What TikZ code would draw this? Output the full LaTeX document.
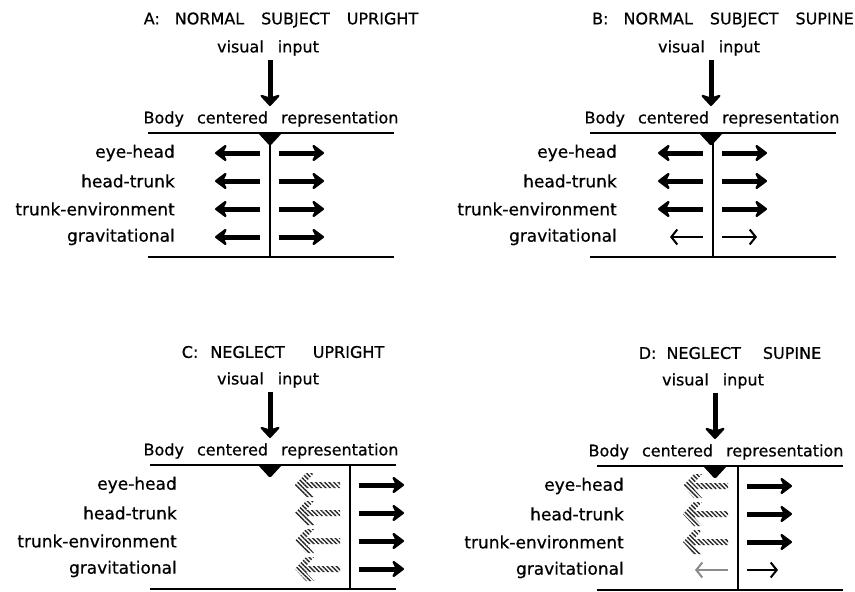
\documentclass[tikz,border=0pt]{standalone}
\usepackage{fontspec}
\setmainfont{DejaVu Sans}[FakeBold=0.6]
\usetikzlibrary{arrows.meta, patterns.meta}
\tikzstyle{heading} = [inner sep=0pt, font=\fontsize{16pt}{19pt}\selectfont]
\tikzstyle{rowtext} = [inner sep=0pt, anchor=east, font=\fontsize{17pt}{20pt}\selectfont]
\tikzstyle{hline} = [line width=2.8pt]
\tikzstyle{inarrow} = [line width=5pt, -{Stealth[length=13pt, width=24pt, inset=4pt, round, line width=3.5pt]}]
\tikzstyle{bigarrow} = [line width=5pt, -{Stealth[length=14pt, width=21pt, inset=5pt, round, line width=3.8pt]}]
\tikzstyle{thinarrow} = [line width=2pt, -{Straight Barb[length=6pt, width=15pt]}]
\tikzstyle{hatched} = [pattern={Lines[angle=-45, distance=3.2pt, line width=1.4pt]}, pattern color=black!85]
\tikzset{hatchleft/.pic={\path[hatched] (0,0) -- (11,-12) -- (19,-12) -- (11,-3) -- (45,-3) -- (45,3) -- (11,3) -- (19,12) -- (11,12) -- cycle;}}
% #1 panel, #2 heading, #3 left end of rules, #4 upper rule, #5 input arrow, #6 midline
\newcommand{\panelframe}[6]{%
        \node (#1-title) [heading] at (#3+133, #4-113) {#2};
        \node (#1-vis) [heading] at (#5-2, #4-85) {visual\hspace{14pt}input};
        \node (#1-body) [heading] at (#5+1, #4-14) {Body\hspace{13pt}centered\hspace{13pt}representation};
        \node (#1-eyehead) [rowtext] at (#3+27, #4+20) {eye-head};
        \node (#1-headtrunk) [rowtext] at (#3+27, #4+48) {head-trunk};
        \node (#1-trunkenv) [rowtext] at (#3+27, #4+76) {trunk-environment};
        \node (#1-grav) [rowtext] at (#3+27, #4+104) {gravitational};
        \coordinate (#1-src) at (#5, #4-73);
        \coordinate (#1-dst) at (#5, #4-27);
        \draw [inarrow] (#1-src) -- (#1-dst);
        \coordinate (#1-tl) at (#3, #4);
        \coordinate (#1-tr) at (#3+246, #4);
        \coordinate (#1-bl) at (#3, #4+124);
        \coordinate (#1-br) at (#3+246, #4+124);
        \coordinate (#1-mt) at (#6, #4);
        \coordinate (#1-mb) at (#6, #4+124);
        \draw [hline] (#1-tl) -- (#1-tr);
        \draw [hline] (#1-bl) -- (#1-br);
        \draw [hline] (#1-mt) -- (#1-mb);
        \fill [rounded corners=1.5pt] (#5-12, #4) -- (#5+12, #4) -- (#5, #4+13) -- cycle;
        % arrow ends for the four rows
        \coordinate (#1-wt1) at (#6-10, #4+20); \coordinate (#1-wh1) at (#6-55, #4+20);
        \coordinate (#1-et1) at (#6+9, #4+20); \coordinate (#1-eh1) at (#6+54, #4+20);
        \coordinate (#1-wt2) at (#6-10, #4+48); \coordinate (#1-wh2) at (#6-55, #4+48);
        \coordinate (#1-et2) at (#6+9, #4+48); \coordinate (#1-eh2) at (#6+54, #4+48);
        \coordinate (#1-wt3) at (#6-10, #4+76); \coordinate (#1-wh3) at (#6-55, #4+76);
        \coordinate (#1-et3) at (#6+9, #4+76); \coordinate (#1-eh3) at (#6+54, #4+76);
        \coordinate (#1-wt4) at (#6-10, #4+104); \coordinate (#1-wh4) at (#6-55, #4+104);
        \coordinate (#1-et4) at (#6+9, #4+104); \coordinate (#1-eh4) at (#6+54, #4+104);
}

\begin{document}
\begin{tikzpicture}[x=1pt, y=-1pt]
        \fill [white] (0,0) rectangle (855,592);
        \useasboundingbox (0,0) rectangle (855,592);
        \panelframe{A}{A:\hspace{15pt}NORMAL\hspace{17pt}SUBJECT\hspace{17pt}UPRIGHT}{148}{133}{270}{270}
        \panelframe{B}{B:\hspace{15pt}NORMAL\hspace{17pt}SUBJECT\hspace{17pt}SUPINE}{590}{133}{711}{713}
        \panelframe{C}{C:\hspace{12pt}NEGLECT\hspace{28pt}UPRIGHT}{150}{465}{270}{350}
        \panelframe{D}{D:\hspace{10pt}NEGLECT\hspace{22pt}SUPINE}{597}{466}{715}{738}
        % A: normal upright
        \draw [bigarrow] (A-wt1) -- (A-wh1);
        \draw [bigarrow] (A-wt2) -- (A-wh2);
        \draw [bigarrow] (A-wt3) -- (A-wh3);
        \draw [bigarrow] (A-wt4) -- (A-wh4);
        \draw [bigarrow] (A-et1) -- (A-eh1);
        \draw [bigarrow] (A-et2) -- (A-eh2);
        \draw [bigarrow] (A-et3) -- (A-eh3);
        \draw [bigarrow] (A-et4) -- (A-eh4);
        % B: normal supine, weak gravitational signal
        \draw [bigarrow] (B-wt1) -- (B-wh1);
        \draw [bigarrow] (B-wt2) -- (B-wh2);
        \draw [bigarrow] (B-wt3) -- (B-wh3);
        \draw [thinarrow, shorten >=12pt] (B-wt4) -- (B-wh4);
        \draw [bigarrow] (B-et1) -- (B-eh1);
        \draw [bigarrow] (B-et2) -- (B-eh2);
        \draw [bigarrow] (B-et3) -- (B-eh3);
        \draw [thinarrow, shorten >=10pt] (B-et4) -- (B-eh4);
        % C: neglect upright
        \pic at (C-wh1) {hatchleft};
        \pic at (C-wh2) {hatchleft};
        \pic at (C-wh3) {hatchleft};
        \pic at (C-wh4) {hatchleft};
        \draw [bigarrow] (C-et1) -- (C-eh1);
        \draw [bigarrow] (C-et2) -- (C-eh2);
        \draw [bigarrow] (C-et3) -- (C-eh3);
        \draw [bigarrow] (C-et4) -- (C-eh4);
        % D: neglect supine
        \pic at (D-wh1) {hatchleft};
        \pic at (D-wh2) {hatchleft};
        \pic at (D-wh3) {hatchleft};
        \draw [thinarrow, black!45, shorten >=12pt] (D-wt4) -- (D-wh4);
        \draw [bigarrow] (D-et1) -- (D-eh1);
        \draw [bigarrow] (D-et2) -- (D-eh2);
        \draw [bigarrow] (D-et3) -- (D-eh3);
        \draw [thinarrow, shorten >=14pt] (D-et4) -- (D-eh4);
\end{tikzpicture}
\end{document}
